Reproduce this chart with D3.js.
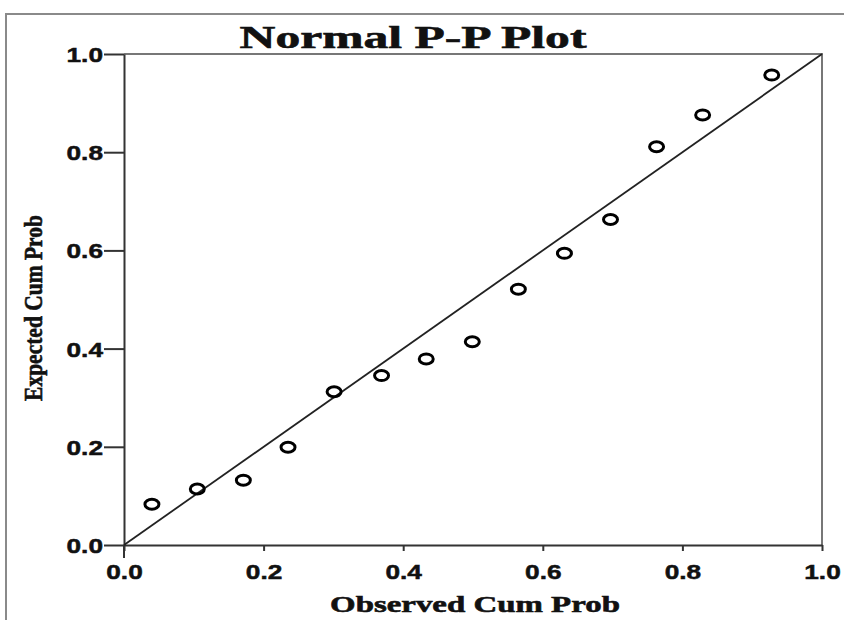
<!DOCTYPE html>
<html>
<head>
<meta charset="utf-8">
<script src="https://cdn.jsdelivr.net/npm/d3@7"></script>
<style>
  body { margin: 0; background: #fff; }
</style>
</head>
<body>
<div class="canvas"></div>
<script>
// observed vs expected cumulative probabilities
var observed = [0.040, 0.105, 0.171, 0.235, 0.301, 0.369, 0.433, 0.499, 0.565, 0.631, 0.697, 0.763, 0.829, 0.928];
var expected = [0.083, 0.114, 0.132, 0.199, 0.312, 0.345, 0.379, 0.414, 0.521, 0.594, 0.663, 0.811, 0.876, 0.957];
var ticks = [0, 0.2, 0.4, 0.6, 0.8, 1.0];

var W = 844, H = 620;
var margin = { top: 54, right: 22, bottom: 75, left: 124 };
var width = W - margin.left - margin.right;
var height = H - margin.top - margin.bottom;

var svg = d3.select(".canvas")
  .append("svg")
  .attr("width", W)
  .attr("height", H);

// outer frame (top + left only)
svg.append("path")
  .attr("d", "M6," + H + "V14H" + W)
  .attr("fill", "none")
  .attr("stroke", "#8a8a8a")
  .attr("stroke-width", 2);

var g = svg.append("g")
  .attr("transform", "translate(" + margin.left + "," + margin.top + ")");

var x = d3.scaleLinear().domain([0, 1]).range([0, width]);
var y = d3.scaleLinear().domain([0, 1]).range([height, 0]);

// box top/right
g.append("path")
  .attr("d", "M0,0H" + width + "V" + height)
  .attr("fill", "none")
  .attr("stroke", "#777")
  .attr("stroke-width", 2);

var xAxis = g.append("g")
  .attr("transform", "translate(0," + height + ")")
  .call(d3.axisBottom(x).tickValues(ticks).tickFormat(d3.format(".1f")).tickSizeInner(6).tickSizeOuter(0));

var yAxis = g.append("g")
  .call(d3.axisLeft(y).tickValues(ticks).tickFormat(d3.format(".1f")).tickSizeInner(20).tickSizeOuter(0));

// y axis line runs a bit below the x axis
g.append("line")
  .attr("x1", 0).attr("x2", 0)
  .attr("y1", height).attr("y2", height + 13)
  .attr("stroke", "#333").attr("stroke-width", 2);

[xAxis, yAxis].forEach(function(a) {
  a.select(".domain").attr("stroke", "#333").attr("stroke-width", 2);
  a.selectAll(".tick line").attr("stroke", "#333").attr("stroke-width", 2);
  a.selectAll("text")
    .attr("fill", "#111")
    .attr("stroke", "#111")
    .attr("stroke-width", 0.5)
    .style("font-family", "'Liberation Sans', Arial, sans-serif")
    .style("font-weight", "bold")
    .style("font-size", "21px");
});

// tick labels in the source are stretched sideways
xAxis.selectAll(".tick text")
  .attr("y", 0).attr("dy", null)
  .attr("transform", "translate(0,34) scale(1.25,1)");
yAxis.selectAll(".tick text")
  .attr("x", 0).attr("dy", "0.36em")
  .attr("transform", "translate(-21,0) scale(1.25,1)");

// reference line
g.append("line")
  .attr("x1", x(0)).attr("y1", y(0))
  .attr("x2", x(1)).attr("y2", y(1))
  .attr("stroke", "#222")
  .attr("stroke-width", 1.8);

var pts = observed.map(function(o, i) { return { o: o, e: expected[i] }; });

g.selectAll(".pt")
  .data(pts)
  .enter()
  .append("ellipse")
  .attr("class", "pt")
  .attr("cx", function(d) { return x(d.o); })
  .attr("cy", function(d) { return y(d.e); })
  .attr("rx", 7)
  .attr("ry", 5)
  .attr("fill", "none")
  .attr("stroke", "#000")
  .attr("stroke-width", 3);

var serif = "'Liberation Serif', 'Times New Roman', serif";

// stretch a label to a given width around its anchor
function label(tx, ty, rot, size, txt, targetW) {
  var t = svg.append("text")
    .attr("text-anchor", "middle")
    .style("font-family", serif)
    .style("font-weight", "bold")
    .style("font-size", size + "px")
    .attr("fill", "#111")
    .attr("stroke", "#111")
    .attr("stroke-width", 0.6)
    .text(txt);
  var k = targetW / t.node().getComputedTextLength();
  t.attr("transform", "translate(" + tx + "," + ty + ") rotate(" + rot + ") scale(" + k + ",1)");
  return t;
}

label(413, 48, 0, 31, "Normal P-P Plot", 347);
label(475, 612, 0, 24, "Observed Cum Prob", 290);
label(42, 308, -90, 25, "Expected Cum Prob", 186);
</script>
</body>
</html>
